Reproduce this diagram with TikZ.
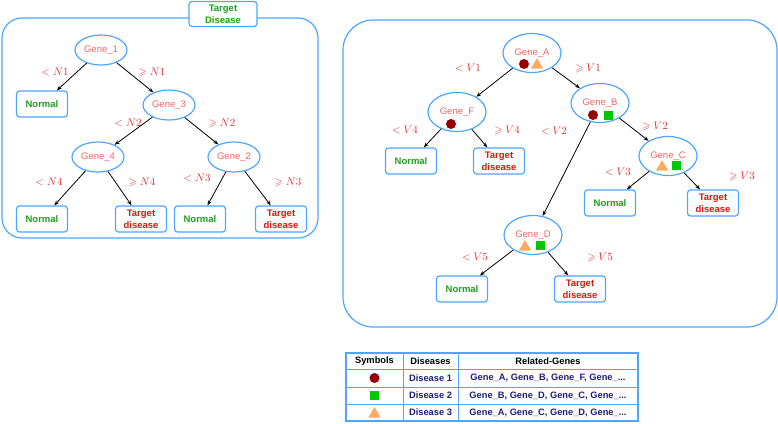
\documentclass[tikz,border=0pt]{standalone}
\usepackage{amssymb}
\usepackage{fontspec}
\setmainfont{Liberation Sans}
\usepackage{xcolor}
\usetikzlibrary{arrows.meta, shapes.geometric, positioning, calc}

\definecolor{frameblue}{RGB}{77,166,255}
\definecolor{genered}{RGB}{240,100,100}
\definecolor{leafgreen}{RGB}{30,160,30}
\definecolor{leafred}{RGB}{220,20,20}
\definecolor{condred}{RGB}{225,45,45}
\definecolor{navy}{RGB}{30,30,120}
\definecolor{disA}{RGB}{150,0,0}
\definecolor{disB}{RGB}{0,200,0}
\definecolor{disC}{RGB}{255,170,100}

\begin{document}
\begin{tikzpicture}[
    x=1pt, y=-1pt,
    gene/.style={ellipse, draw=frameblue, line width=1.2pt, text=genered, font=\fontsize{9.5}{11}\selectfont, inner sep=0pt, minimum width=52pt, minimum height=30pt},
    big/.style={minimum width=58pt, minimum height=39pt},
    leaf/.style={rectangle, rounded corners=3pt, draw=frameblue, line width=1.2pt, font=\bfseries\fontsize{9.5}{12}\selectfont, align=center, minimum width=51pt, minimum height=26pt, inner sep=0pt},
    normal/.style={text=leafgreen},
    target/.style={text=leafred},
    cond/.style={text=condred, font=\fontsize{10.5}{12}\selectfont},
    panel/.style={draw=frameblue, line width=1.2pt, rounded corners=20pt},
    dotA/.style={circle, fill=disA, minimum size=10pt, inner sep=0pt},
    boxB/.style={rectangle, fill=disB, minimum size=9pt, inner sep=0pt},
    triC/.style={regular polygon, regular polygon sides=3, fill=disC, minimum size=14pt, inner sep=0pt},
    cell/.style={font=\bfseries\fontsize{9.3}{11}\selectfont}
  ]
  \useasboundingbox (0,0) rectangle (778,423);

  % Panels
  \draw[panel] (2,18) rectangle (318,238);
  \draw[panel, rounded corners=30pt] (343,20) rectangle (777,327);
  \node[leaf, fill=white, text=leafgreen, minimum width=68pt, minimum height=25pt] (title) at (223,14) {Target\\Disease};

  % Left tree
  \node[gene] (G1) at (101,50) {Gene\_1};
  \node[gene] (G3) at (169,105) {Gene\_3};
  \node[gene] (G4) at (98,157) {Gene\_4};
  \node[gene] (G2) at (234,157) {Gene\_2};
  \node[leaf, normal] (N1) at (42,104) {Normal};
  \node[leaf, normal] (N4) at (42,219) {Normal};
  \node[leaf, target] (T4) at (141,219) {Target\\disease};
  \node[leaf, normal] (N3) at (200,219) {Normal};
  \node[leaf, target] (T3) at (281,219) {Target\\disease};

  \node[cond] (c1l) at (55,72) {$<N1$};
  \node[cond] (c1r) at (152,72) {$\geqslant N1$};
  \node[cond] (c2l) at (128,123) {$<N2$};
  \node[cond] (c2r) at (222,123) {$\geqslant N2$};
  \node[cond] (c4l) at (49,182) {$<N4$};
  \node[cond] (c4r) at (142,182) {$\geqslant N4$};
  \node[cond] (c3l) at (197,178) {$<N3$};
  \node[cond] (c3r) at (288,182) {$\geqslant N3$};

  % Right tree
  \node[gene, big] (GA) at (532,53) {Gene\_A};
  \node[gene, big] (GF) at (457,112) {Gene\_F};
  \node[gene, big] (GB) at (600,103) {Gene\_B};
  \node[gene, big] (GC) at (668,156) {Gene\_C};
  \node[gene, big] (GD) at (533,235) {Gene\_D};
  \node[leaf, normal] (NF) at (411,161) {Normal};
  \node[leaf, target] (TF) at (499,161) {Target\\disease};
  \node[leaf, normal] (NC) at (610,203) {Normal};
  \node[leaf, target] (TC) at (713,203) {Target\\disease};
  \node[leaf, normal] (ND) at (462,289) {Normal};
  \node[leaf, target] (TD) at (580,289) {Target\\disease};

  % Disease marks
  \node[dotA] (GAa) at ($(GA)+(-8,11)$) {};
  \node[triC] (GAc) at ($(GA)+(5,12)$) {};
  \node[dotA] (GFa) at ($(GF)+(-6,12)$) {};
  \node[dotA] (GBa) at ($(GB)+(-7,12)$) {};
  \node[boxB] (GBb) at ($(GB)+(8,12)$) {};
  \node[triC] (GCc) at ($(GC)+(-6,11)$) {};
  \node[boxB] (GCb) at ($(GC)+(8,9)$) {};
  \node[triC] (GDc) at ($(GD)+(-8,12)$) {};
  \node[boxB] (GDb) at ($(GD)+(7,10)$) {};

  \node[cond] (v1l) at (468,68) {$<V1$};
  \node[cond] (v1r) at (588,68) {$\geqslant V1$};
  \node[cond] (v4l) at (405,130) {$<V4$};
  \node[cond] (v4r) at (507,130) {$\geqslant V4$};
  \node[cond] (v2l) at (554,131) {$<V2$};
  \node[cond] (v2r) at (655,126) {$\geqslant V2$};
  \node[cond] (v3l) at (618,172) {$<V3$};
  \node[cond] (v3r) at (742,176) {$\geqslant V3$};
  \node[cond] (v5l) at (475,257) {$<V5$};
  \node[cond] (v5r) at (600,257) {$\geqslant V5$};

  % Edges
  \path[-{Stealth[length=5pt]}, line width=0.8pt]
    (G1) edge (N1)
    (G1) edge (G3)
    (G3) edge (G4)
    (G3) edge (G2)
    (G4) edge (N4)
    (G4) edge (T4)
    (G2) edge (N3)
    (G2) edge (T3)
    (GA) edge (GF)
    (GA) edge (GB)
    (GF) edge (NF)
    (GF) edge (TF)
    (GB) edge (GD)
    (GB) edge (GC)
    (GC) edge (NC)
    (GC) edge (TC)
    (GD) edge (ND)
    (GD) edge (TD);

  % Legend table
  \draw[frameblue, line width=1.5pt] (346,353) rectangle (638,421);
  \foreach \y in {369,387,404}
    \draw[frameblue, line width=1pt] (346,\y) -- (638,\y);
  \foreach \x in {403,458}
    \draw[frameblue, line width=1pt] (\x,353) -- (\x,421);

  \node[cell] (hSym) at (374.5,361) {Symbols};
  \node[cell] (hDis) at (430.5,361) {Diseases};
  \node[cell] (hGen) at (548,361) {Related-Genes};

  \node[dotA] (s1) at (374.5,378) {};
  \node[boxB] (s2) at (374.5,395.5) {};
  \node[triC] (s3) at (374.5,414) {};
  \node[cell, text=navy] (d1) at (430.5,378) {Disease 1};
  \node[cell, text=navy] (d2) at (430.5,395.5) {Disease 2};
  \node[cell, text=navy] (d3) at (430.5,412.5) {Disease 3};
  \node[cell, text=navy] (r1) at (548,378) {Gene\_A, Gene\_B, Gene\_F, Gene\_...};
  \node[cell, text=navy] (r2) at (548,395.5) {Gene\_B, Gene\_D, Gene\_C, Gene\_...};
  \node[cell, text=navy] (r3) at (548,412.5) {Gene\_A, Gene\_C, Gene\_D, Gene\_...};
\end{tikzpicture}
\end{document}
